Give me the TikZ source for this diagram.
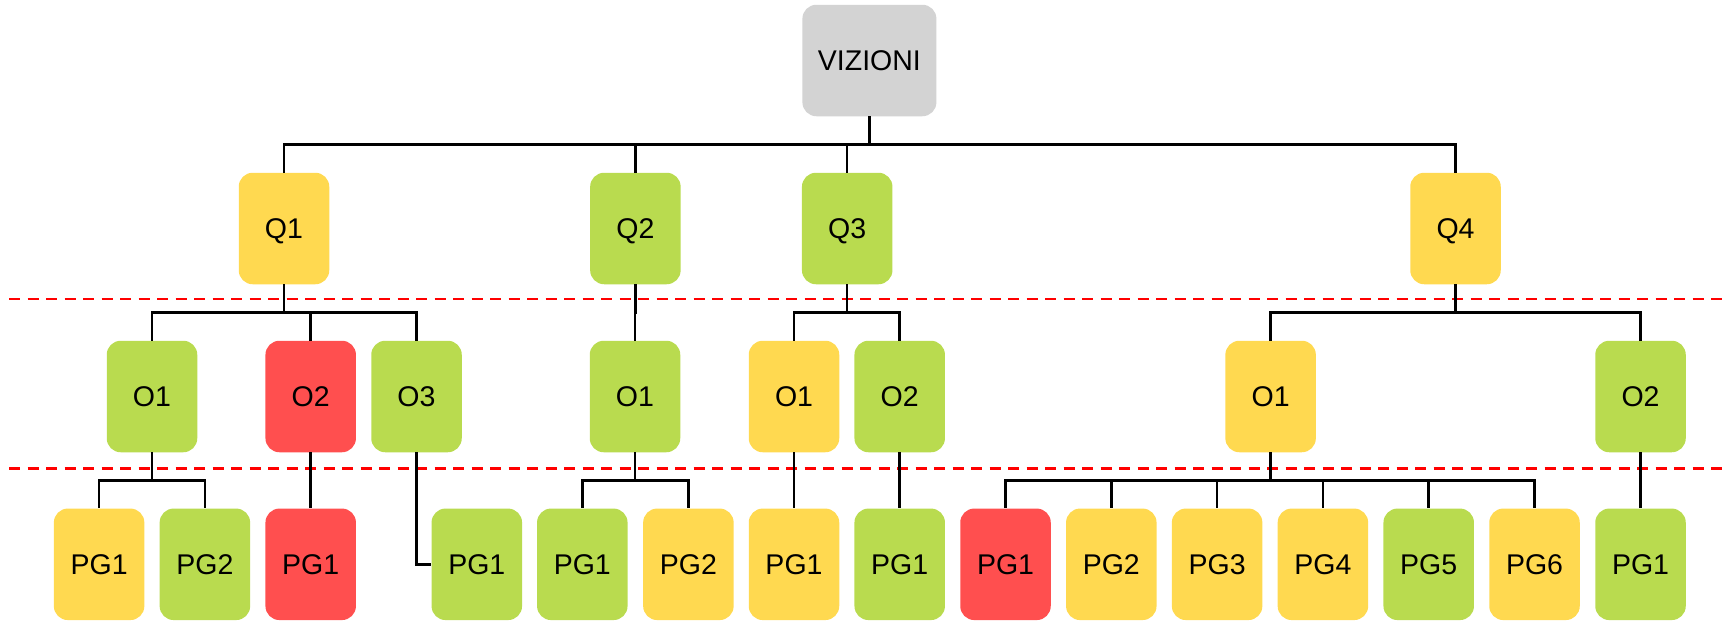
\documentclass[tikz,border=0pt]{standalone}
\usepackage{fontspec}
\setmainfont{Liberation Sans}
\usetikzlibrary{calc}
\definecolor{cy}{HTML}{FFD950}
\definecolor{cg}{HTML}{B9DB4F}
\definecolor{cr}{HTML}{FF4F4F}
\definecolor{cgr}{HTML}{D3D3D3}
\definecolor{dred}{HTML}{FF0000}
\tikzset{
  box/.style={rectangle, rounded corners=14pt, minimum width=90.5pt, minimum height=111.5pt,
    inner sep=0pt, font=\fontsize{28.5}{34}\selectfont, text height=20.4pt, text depth=0pt},
  yb/.style={box, fill=cy},
  gb/.style={box, fill=cg},
  rb/.style={box, fill=cr},
  conn/.style={draw=black, line width=2.5pt},
  sep/.style={draw=dred, line width=2.4pt, dash pattern=on 11pt off 7.5pt}
}
\newcommand{\forkto}[2]{\draw[conn] (#1.south) |- ($(#1.south)!.5!(#2.north)$) -| (#2.north);}
\begin{document}
\begin{tikzpicture}[x=1pt,y=-1pt]
\useasboundingbox (0,0) rectangle (1736,621);
% separators
\coordinate (s1a) at (9,299); \coordinate (s1b) at (1729,299);
\coordinate (s2a) at (9,468.3); \coordinate (s2b) at (1729,468.3);
\draw[sep] (s1a) -- (s1b);
\draw[sep] (s2a) -- (s2b);
% root
\node[box, fill=cgr, minimum width=134pt] (viz) at (869.4,60.5) {VIZIONI};
% Q row
\node[yb] (q1) at (284,228.5) {Q1};
\node[gb] (q2) at (635.4,228.5) {Q2};
\node[gb] (q3) at (847.2,228.5) {Q3};
\node[yb] (q4) at (1455.5,228.5) {Q4};
% O row
\node[gb] (a1) at (152,396.5) {O1};
\node[rb] (a2) at (310.7,396.5) {O2};
\node[gb] (a3) at (416.5,396.5) {O3};
\node[gb] (b1) at (635,396.5) {O1};
\node[yb] (c1) at (794,396.5) {O1};
\node[gb] (c2) at (899.7,396.5) {O2};
\node[yb] (d1) at (1270.6,396.5) {O1};
\node[gb] (d2) at (1640.5,396.5) {O2};
% PG row
\node[yb] (a1p1) at (99.1,564.3) {PG1};
\node[gb] (a1p2) at (204.9,564.3) {PG2};
\node[rb] (a2p1) at (310.7,564.3) {PG1};
\node[gb] (a3p1) at (476.8,564.3) {PG1};
\node[gb] (b1p1) at (582.3,564.3) {PG1};
\node[yb] (b1p2) at (688.4,564.3) {PG2};
\node[yb] (c1p1) at (794,564.3) {PG1};
\node[gb] (c2p1) at (899.7,564.3) {PG1};
\node[rb] (d1p1) at (1005.5,564.3) {PG1};
\node[yb] (d1p2) at (1111.3,564.3) {PG2};
\node[yb] (d1p3) at (1217.1,564.3) {PG3};
\node[yb] (d1p4) at (1322.9,564.3) {PG4};
\node[gb] (d1p5) at (1428.7,564.3) {PG5};
\node[yb] (d1p6) at (1534.5,564.3) {PG6};
\node[gb] (d2p1) at (1640.5,564.3) {PG1};
% connectors
\forkto{viz}{q1}\forkto{viz}{q2}\forkto{viz}{q3}\forkto{viz}{q4}
\forkto{q1}{a1}\forkto{q1}{a2}\forkto{q1}{a3}
\forkto{q2}{b1}
\forkto{q3}{c1}\forkto{q3}{c2}
\forkto{q4}{d1}\forkto{q4}{d2}
\forkto{a1}{a1p1}\forkto{a1}{a1p2}
\forkto{a2}{a2p1}
\draw[conn] (a3.south) |- (a3p1.west);
\forkto{b1}{b1p1}\forkto{b1}{b1p2}
\forkto{c1}{c1p1}
\forkto{c2}{c2p1}
\forkto{d1}{d1p1}\forkto{d1}{d1p2}\forkto{d1}{d1p3}\forkto{d1}{d1p4}\forkto{d1}{d1p5}\forkto{d1}{d1p6}
\forkto{d2}{d2p1}
\end{tikzpicture}
\end{document}
